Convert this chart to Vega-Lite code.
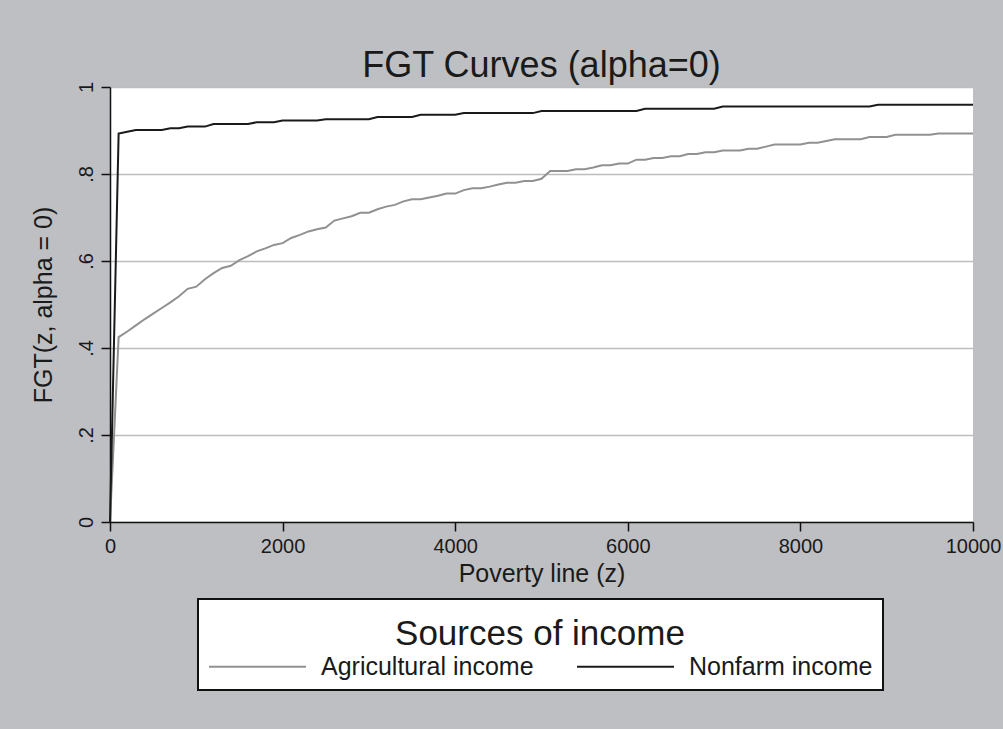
{
  "$schema": "https://vega.github.io/schema/vega-lite/v6.json",
  "width": 863,
  "height": 435,
  "autosize": {"type": "none"},
  "padding": {"left": 110, "top": 87, "right": 30, "bottom": 207},
  "background": "#BEBFC3",
  "title": {
    "text": "FGT Curves (alpha=0)",
    "anchor": "middle",
    "fontSize": 36,
    "font": "Liberation Sans",
    "fontWeight": "normal",
    "color": "#1a1a1a",
    "baseline": "alphabetic",
    "offset": 9,
    "dy": 41
  },
  "datasets": {
    "agri": [
      {"z":0,"fgt":0},{"z":100,"fgt":0.425},{"z":200,"fgt":0.438},{"z":300,"fgt":0.452},{"z":400,"fgt":0.466},{"z":500,"fgt":0.479},{"z":600,"fgt":0.492},{"z":700,"fgt":0.505},{"z":800,"fgt":0.519},{"z":900,"fgt":0.536},
      {"z":1000,"fgt":0.541},{"z":1100,"fgt":0.558},{"z":1200,"fgt":0.572},{"z":1300,"fgt":0.584},{"z":1400,"fgt":0.589},{"z":1500,"fgt":0.602},{"z":1600,"fgt":0.611},{"z":1700,"fgt":0.622},{"z":1800,"fgt":0.629},{"z":1900,"fgt":0.637},
      {"z":2000,"fgt":0.641},{"z":2100,"fgt":0.653},{"z":2200,"fgt":0.660},{"z":2300,"fgt":0.668},{"z":2400,"fgt":0.673},{"z":2500,"fgt":0.677},{"z":2600,"fgt":0.693},{"z":2700,"fgt":0.698},{"z":2800,"fgt":0.703},{"z":2900,"fgt":0.711},
      {"z":3000,"fgt":0.711},{"z":3100,"fgt":0.719},{"z":3200,"fgt":0.725},{"z":3300,"fgt":0.729},{"z":3400,"fgt":0.737},{"z":3500,"fgt":0.742},{"z":3600,"fgt":0.742},{"z":3700,"fgt":0.746},{"z":3800,"fgt":0.750},{"z":3900,"fgt":0.755},
      {"z":4000,"fgt":0.755},{"z":4100,"fgt":0.763},{"z":4200,"fgt":0.767},{"z":4300,"fgt":0.767},{"z":4400,"fgt":0.771},{"z":4500,"fgt":0.776},{"z":4600,"fgt":0.780},{"z":4700,"fgt":0.780},{"z":4800,"fgt":0.784},{"z":4900,"fgt":0.784},
      {"z":5000,"fgt":0.789},{"z":5100,"fgt":0.807},{"z":5200,"fgt":0.807},{"z":5300,"fgt":0.807},{"z":5400,"fgt":0.811},{"z":5500,"fgt":0.811},{"z":5600,"fgt":0.815},{"z":5700,"fgt":0.820},{"z":5800,"fgt":0.820},{"z":5900,"fgt":0.824},
      {"z":6000,"fgt":0.824},{"z":6100,"fgt":0.833},{"z":6200,"fgt":0.833},{"z":6300,"fgt":0.837},{"z":6400,"fgt":0.837},{"z":6500,"fgt":0.841},{"z":6600,"fgt":0.841},{"z":6700,"fgt":0.846},{"z":6800,"fgt":0.846},{"z":6900,"fgt":0.850},
      {"z":7000,"fgt":0.850},{"z":7100,"fgt":0.854},{"z":7200,"fgt":0.854},{"z":7300,"fgt":0.854},{"z":7400,"fgt":0.858},{"z":7500,"fgt":0.858},{"z":7600,"fgt":0.863},{"z":7700,"fgt":0.868},{"z":7800,"fgt":0.868},{"z":7900,"fgt":0.868},
      {"z":8000,"fgt":0.868},{"z":8100,"fgt":0.872},{"z":8200,"fgt":0.872},{"z":8300,"fgt":0.876},{"z":8400,"fgt":0.880},{"z":8500,"fgt":0.880},{"z":8600,"fgt":0.880},{"z":8700,"fgt":0.880},{"z":8800,"fgt":0.885},{"z":8900,"fgt":0.885},
      {"z":9000,"fgt":0.885},{"z":9100,"fgt":0.890},{"z":9200,"fgt":0.890},{"z":9300,"fgt":0.890},{"z":9400,"fgt":0.890},{"z":9500,"fgt":0.890},{"z":9600,"fgt":0.893},{"z":9700,"fgt":0.893},{"z":9800,"fgt":0.893},{"z":9900,"fgt":0.893},
      {"z":10000,"fgt":0.893}
    ],
    "nonfarm": [
      {"z":0,"fgt":0},{"z":100,"fgt":0.893},{"z":200,"fgt":0.897},{"z":300,"fgt":0.901},{"z":400,"fgt":0.901},{"z":500,"fgt":0.901},{"z":600,"fgt":0.901},{"z":700,"fgt":0.905},{"z":800,"fgt":0.905},{"z":900,"fgt":0.909},
      {"z":1000,"fgt":0.909},{"z":1100,"fgt":0.909},{"z":1200,"fgt":0.915},{"z":1300,"fgt":0.915},{"z":1400,"fgt":0.915},{"z":1500,"fgt":0.915},{"z":1600,"fgt":0.915},{"z":1700,"fgt":0.919},{"z":1800,"fgt":0.919},{"z":1900,"fgt":0.919},
      {"z":2000,"fgt":0.923},{"z":2100,"fgt":0.923},{"z":2200,"fgt":0.923},{"z":2300,"fgt":0.923},{"z":2400,"fgt":0.923},{"z":2500,"fgt":0.926},{"z":2600,"fgt":0.926},{"z":2700,"fgt":0.926},{"z":2800,"fgt":0.926},{"z":2900,"fgt":0.926},
      {"z":3000,"fgt":0.926},{"z":3100,"fgt":0.931},{"z":3200,"fgt":0.931},{"z":3300,"fgt":0.931},{"z":3400,"fgt":0.931},{"z":3500,"fgt":0.931},{"z":3600,"fgt":0.936},{"z":3700,"fgt":0.936},{"z":3800,"fgt":0.936},{"z":3900,"fgt":0.936},
      {"z":4000,"fgt":0.936},{"z":4100,"fgt":0.940},{"z":4200,"fgt":0.940},{"z":4300,"fgt":0.940},{"z":4400,"fgt":0.940},{"z":4500,"fgt":0.940},{"z":4600,"fgt":0.940},{"z":4700,"fgt":0.940},{"z":4800,"fgt":0.940},{"z":4900,"fgt":0.940},
      {"z":5000,"fgt":0.945},{"z":5100,"fgt":0.945},{"z":5200,"fgt":0.945},{"z":5300,"fgt":0.945},{"z":5400,"fgt":0.945},{"z":5500,"fgt":0.945},{"z":5600,"fgt":0.945},{"z":5700,"fgt":0.945},{"z":5800,"fgt":0.945},{"z":5900,"fgt":0.945},
      {"z":6000,"fgt":0.945},{"z":6100,"fgt":0.945},{"z":6200,"fgt":0.950},{"z":6300,"fgt":0.950},{"z":6400,"fgt":0.950},{"z":6500,"fgt":0.950},{"z":6600,"fgt":0.950},{"z":6700,"fgt":0.950},{"z":6800,"fgt":0.950},{"z":6900,"fgt":0.950},
      {"z":7000,"fgt":0.950},{"z":7100,"fgt":0.955},{"z":7200,"fgt":0.955},{"z":7300,"fgt":0.955},{"z":7400,"fgt":0.955},{"z":7500,"fgt":0.955},{"z":7600,"fgt":0.955},{"z":7700,"fgt":0.955},{"z":7800,"fgt":0.955},{"z":7900,"fgt":0.955},
      {"z":8000,"fgt":0.955},{"z":8100,"fgt":0.955},{"z":8200,"fgt":0.955},{"z":8300,"fgt":0.955},{"z":8400,"fgt":0.955},{"z":8500,"fgt":0.955},{"z":8600,"fgt":0.955},{"z":8700,"fgt":0.955},{"z":8800,"fgt":0.955},{"z":8900,"fgt":0.959},
      {"z":9000,"fgt":0.959},{"z":9100,"fgt":0.959},{"z":9200,"fgt":0.959},{"z":9300,"fgt":0.959},{"z":9400,"fgt":0.959},{"z":9500,"fgt":0.959},{"z":9600,"fgt":0.959},{"z":9700,"fgt":0.959},{"z":9800,"fgt":0.959},{"z":9900,"fgt":0.959},
      {"z":10000,"fgt":0.959}
    ]
  },
  "layer": [
    {
      "data": {"name": "agri"},
      "transform": [{"calculate": "'Agricultural income'", "as": "source"}],
      "mark": {"type": "line", "strokeWidth": 2},
      "encoding": {
        "x": {"field": "z", "type": "quantitative"},
        "y": {"field": "fgt", "type": "quantitative"},
        "color": {"field": "source", "type": "nominal"}
      }
    },
    {
      "data": {"name": "nonfarm"},
      "transform": [{"calculate": "'Nonfarm income'", "as": "source"}],
      "mark": {"type": "line", "strokeWidth": 2},
      "encoding": {
        "x": {"field": "z", "type": "quantitative"},
        "y": {"field": "fgt", "type": "quantitative"},
        "color": {"field": "source", "type": "nominal"}
      }
    }
  ],
  "resolve": {"scale": {"color": "shared"}},
  "encoding": {
    "x": {
      "field": "z", "type": "quantitative",
      "scale": {"domain": [0, 10000], "nice": false},
      "axis": {"title": "Poverty line (z)", "values": [0, 2000, 4000, 6000, 8000, 10000], "format": "d", "grid": false, "labelFlush": false}
    },
    "y": {
      "field": "fgt", "type": "quantitative",
      "scale": {"domain": [0, 1], "nice": false},
      "axis": {
        "title": "FGT(z, alpha = 0)",
        "values": [0, 0.2, 0.4, 0.6, 0.8, 1],
        "labelExpr": "replace(format(datum.value, '.1~f'), '0.', '.')",
        "labelAngle": 270,
        "labelFlush": false,
        "grid": true
      }
    },
    "color": {
      "field": "source", "type": "nominal",
      "scale": {"domain": ["Agricultural income", "Nonfarm income"], "range": ["#919191", "#1a1a1a"]},
      "legend": {
        "title": "Sources of income",
        "orient": "none",
        "legendX": 88,
        "legendY": 512,
        "direction": "horizontal",
        "encode": {
          "legend": {"update": {"strokeWidth": {"value": 2}}},
          "title": {"update": {"dy": {"value": 8}}}
        }
      }
    }
  },
  "config": {
    "font": "Liberation Sans",
    "view": {"fill": "white", "stroke": null},
    "axis": {
      "domainColor": "#111111",
      "domainWidth": 1.5,
      "tickColor": "#111111",
      "tickWidth": 1.5,
      "tickSize": 9,
      "labelFontSize": 20,
      "labelColor": "#1a1a1a",
      "titleFontSize": 25,
      "titleFontWeight": "normal",
      "titleColor": "#1a1a1a",
      "gridColor": "#BDBDBD",
      "gridWidth": 1.5
    },
    "axisX": {"labelPadding": 5, "titlePadding": 5},
    "axisY": {"labelPadding": 5, "titlePadding": 20},
    "legend": {
      "titleFontSize": 35,
      "titleFontWeight": "normal",
      "titleColor": "#1a1a1a",
      "titleAnchor": "middle",
      "titlePadding": -27,
      "titleLimit": 600,
      "labelFontSize": 25,
      "labelLimit": 400,
      "labelColor": "#1a1a1a",
      "symbolType": "stroke",
      "symbolSize": 9409,
      "symbolStrokeWidth": 2,
      "labelOffset": 14,
      "columnPadding": 39,
      "padding": 10,
      "fillColor": "white",
      "strokeColor": "#111111",
      "cornerRadius": 0
    }
  }
}
